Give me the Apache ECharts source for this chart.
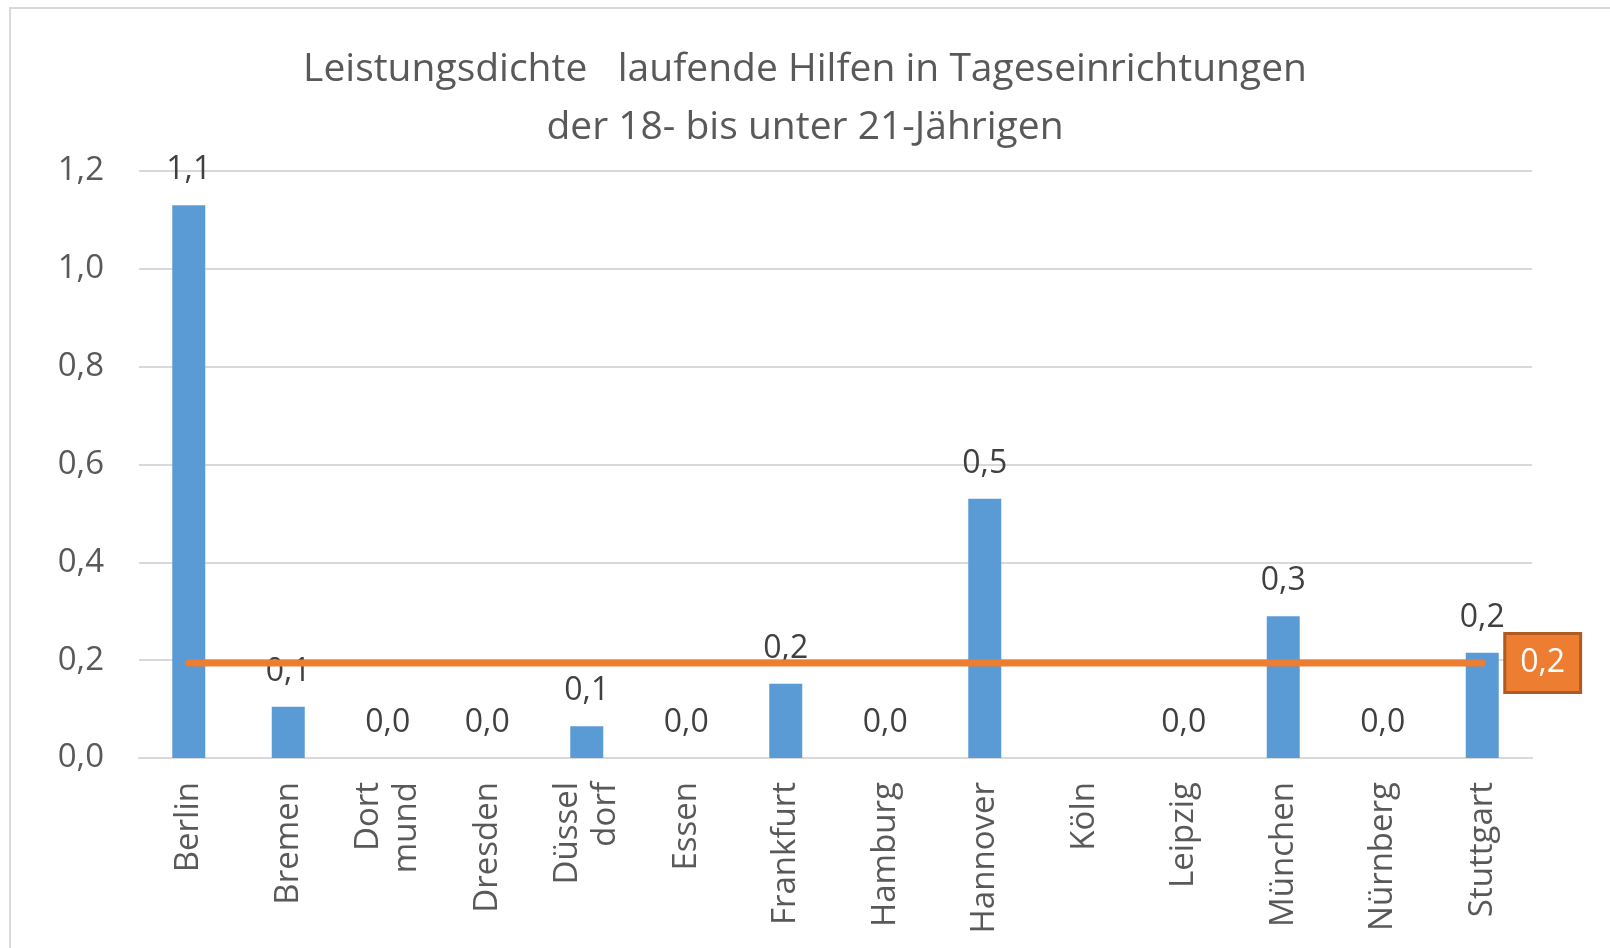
<!DOCTYPE html>
<html>
<head>
<meta charset="utf-8">
<script src="https://cdn.jsdelivr.net/npm/echarts@6/dist/echarts.min.js"></script>
<style>
  html, body { margin: 0; padding: 0; background: #fff; }
  #chart { width: 1610px; height: 948px; }
</style>
</head>
<body>
<div id="chart"></div>
<script>
// Städte (Zeilenumbruch wie im Original)
const staedte = ['Berlin', 'Bremen', 'Dort\nmund', 'Dresden', 'Düssel\ndorf', 'Essen', 'Frankfurt',
  'Hamburg', 'Hannover', 'Köln', 'Leipzig', 'München', 'Nürnberg', 'Stuttgart']
// Leistungsdichte je Stadt (Köln ohne Wert)
const dichte = [1.13, 0.105, 0, 0, 0.065, 0, 0.152, 0, 0.53, null, 0, 0.29, 0, 0.215]
// Durchschnitt (Linie)
const mittel = [0.194, 0.194, 0.194, 0.194, 0.194, 0.194, 0.194,
  0.194, 0.194, 0.194, 0.194, 0.194, 0.194, 0.194]
const yTicks = [0, 0.2, 0.4, 0.6, 0.8, 1.0, 1.2]

const grau = '#595959'
const font = '"Open Sans", "Noto Sans", sans-serif'
const komma = v => (v == null || isNaN(v)) ? '' : Number(v).toFixed(1).replace('.', ',')

const chart = echarts.init(document.getElementById('chart'))
chart.setOption({
  animation: false,
  backgroundColor: '#fff',
  graphic: [{
    type: 'rect',
    shape: { x: 10, y: 8, width: 1700, height: 1000 },
    style: { fill: 'none', stroke: '#d9d9d9', lineWidth: 2 }
  }],
  title: {
    text: 'Leistungsdichte   laufende Hilfen in Tageseinrichtungen\nder 18- bis unter 21-Jährigen',
    left: 'center',
    top: 36,
    textStyle: {
      color: grau,
      fontSize: 39,
      fontWeight: 'normal',
      fontFamily: font,
      lineHeight: 58
    }
  },
  grid: {
    left: 139,
    right: 78,
    top: 171,
    bottom: 190
  },
  xAxis: {
    type: 'category',
    data: staedte,
    axisLine: { lineStyle: { color: '#d9d9d9', width: 2 } },
    axisTick: { show: false },
    axisLabel: {
      interval: 0,
      rotate: 90,
      margin: 24,
      color: grau,
      fontSize: 33,
      fontFamily: font,
      lineHeight: 38
    }
  },
  yAxis: {
    type: 'value',
    min: yTicks[0],
    max: yTicks[yTicks.length - 1],
    interval: 0.2,
    axisLine: { show: false },
    axisTick: { show: false },
    splitLine: { lineStyle: { color: '#d9d9d9', width: 2 } },
    axisLabel: {
      margin: 35,
      color: grau,
      fontSize: 33,
      fontFamily: font,
      formatter: v => komma(v)
    }
  },
  series: [
    {
      type: 'bar',
      data: dichte,
      barWidth: 33,
      itemStyle: { color: '#5B9BD5' },
      label: {
        show: true,
        position: 'top',
        distance: 19,
        color: '#404040',
        fontSize: 32,
        fontFamily: font,
        formatter: p => komma(p.value)
      }
    },
    {
      type: 'line',
      data: mittel,
      symbol: 'none',
      lineStyle: { color: '#ED7D31', width: 7, cap: 'round' },
      z: 3,
      endLabel: {
        show: true,
        distance: 24,
        formatter: p => komma(p.value),
        color: '#fff',
        fontSize: 32,
        fontFamily: font,
        backgroundColor: '#ED7D31',
        borderColor: '#AE5A21',
        borderWidth: 3,
        padding: [13, 14, 11, 14]
      }
    }
  ]
})
</script>
</body>
</html>
